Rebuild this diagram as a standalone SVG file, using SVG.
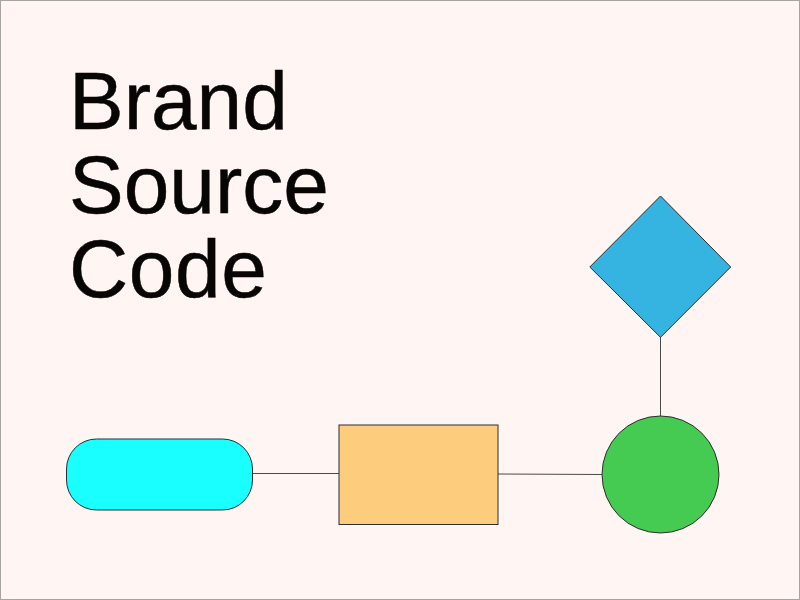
<svg xmlns="http://www.w3.org/2000/svg" width="800" height="600" viewBox="0 0 800 600">
<style>
.title{font-family:"Liberation Sans",Arial,sans-serif;font-size:82px;fill:#080505;stroke:#080505;stroke-width:0.5}
.shape{stroke:#2e2e2e;stroke-width:1}
.conn{stroke:#4a4a4a;stroke-width:1;fill:none}
</style>
<rect x="0.5" y="0.5" width="799" height="599" fill="#fff5f2" stroke="#a8a4a3" stroke-width="1"/>
<g id="title">
<text class="title" x="69" y="129">Brand</text>
<text class="title" x="69" y="212.500">Source</text>
<text class="title" x="69" y="296.500" letter-spacing="0.600">Code</text>
</g>
<g id="connectors">
<line class="conn" x1="252.500" y1="473.500" x2="339" y2="473.500"/>
<line class="conn" x1="498" y1="474" x2="602" y2="474.500"/>
<line class="conn" x1="660.500" y1="337" x2="660.500" y2="416"/>
</g>
<g id="pill"><rect class="shape" x="66.500" y="439" width="186" height="71" rx="30" ry="30" fill="#19ffff"/></g>
<g id="box"><rect class="shape" x="339" y="425" width="159" height="99.500" fill="#fdcd7d"/></g>
<g id="circle"><circle class="shape" cx="660.500" cy="474.500" r="58.500" fill="#46cb52"/></g>
<g id="diamond"><polygon class="shape" points="660.500,196 730.700,267 660.500,337.300 589.800,267" fill="#35b3e1"/></g>
</svg>
